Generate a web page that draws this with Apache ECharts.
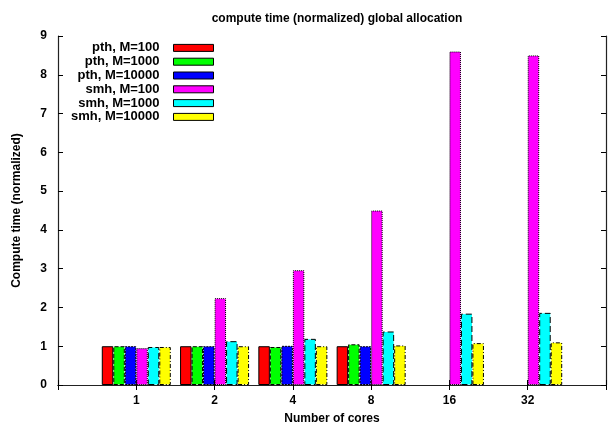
<!DOCTYPE html>
<html>
<head>
<meta charset="utf-8">
<script src="https://cdn.jsdelivr.net/npm/echarts@6/dist/echarts.min.js"></script>
<style>html,body{margin:0;padding:0;background:#fff}#c{width:608px;height:427px}</style>
</head>
<body>
<div id="c"></div>
<script>
const categories = ['1', '2', '4', '8', '16', '32'];
const seriesNames = ['pth, M=100', 'pth, M=1000', 'pth, M=10000', 'smh, M=100', 'smh, M=1000', 'smh, M=10000'];
const pth100 = [1.0, 1.0, 1.0, 1.0, null, null];
const pth1000 = [1.0, 1.0, 0.98, 1.05, null, null];
const pth10000 = [1.0, 1.0, 1.01, 1.0, null, null];
const smh100 = [0.95, 2.24, 2.96, 4.50, 8.60, 8.50];
const smh1000 = [0.98, 1.13, 1.19, 1.38, 1.84, 1.86];
const smh10000 = [0.98, 1.0, 1.0, 1.02, 1.08, 1.10];
const yTicks = [0, 1, 2, 3, 4, 5, 6, 7, 8, 9];

const allValues = [pth100, pth1000, pth10000, smh100, smh1000, smh10000];
const colors = ['#ff0000', '#00ff00', '#0000ff', '#ff00ff', '#00ffff', '#ffff00'];
const borderTypes = ['solid', [4, 2], [2, 1], [1, 1], [6, 3], [4, 2, 1, 2]];

// pad categories so the axis spans one category beyond each side
const xCats = [''].concat(categories, ['']);
const pad = arr => [null].concat(arr, [null]);

const font = 'Liberation Sans, Arial, Helvetica, sans-serif';
const chart = echarts.init(document.getElementById('c'), null, {renderer: 'canvas'});

const series = allValues.map((vals, i) => ({
  name: seriesNames[i],
  type: 'bar',
  data: pad(vals),
  barWidth: 11.5,
  barGap: '0%',
  itemStyle: {
    color: colors[i],
    borderColor: '#000',
    borderWidth: 1,
    borderType: borderTypes[i]
  },
  emphasis: {disabled: true}
}));

const axisLineStyle = {color: '#222', width: 1.2};

chart.setOption({
  animation: false,
  backgroundColor: '#fff',
  textStyle: {fontFamily: font},
  title: {
    text: 'compute time (normalized) global allocation',
    left: 332,
    textAlign: 'center',
    top: 8,
    textStyle: {fontSize: 12, fontWeight: 'bold', color: '#000', fontFamily: font}
  },
  legend: {
    orient: 'vertical',
    align: 'right',
    right: 394,
    top: 41,
    padding: 0,
    icon: 'rect',
    itemWidth: 40,
    itemHeight: 7,
    itemGap: 0,
    selectedMode: false,
    data: seriesNames,
    itemStyle: {borderWidth: 1, borderColor: '#000'},
    textStyle: {fontSize: 13, fontWeight: 'bold', color: '#000', fontFamily: font, lineHeight: 13.8, padding: [0, 9, 0, 0]}
  },
  grid: {left: 58, right: 2, top: 36, bottom: 42, containLabel: false, outerBoundsMode: 'none'},
  xAxis: [{
    type: 'category',
    data: xCats,
    boundaryGap: false,
    name: 'Number of cores',
    nameLocation: 'middle',
    nameGap: 28,
    nameMoveOverlap: false,
    nameTextStyle: {fontSize: 12, fontWeight: 'bold', color: '#000'},
    axisLine: {lineStyle: axisLineStyle},
    axisTick: {inside: true, length: 5, lineStyle: {color: '#000'}},
    axisLabel: {fontSize: 12, fontWeight: 'bold', color: '#000', margin: 10, interval: 0},
    splitLine: {show: false}
  }, {
    type: 'category',
    data: xCats,
    boundaryGap: false,
    position: 'top',
    axisLine: {lineStyle: axisLineStyle},
    axisTick: {inside: true, length: 5, lineStyle: {color: '#000'}},
    axisLabel: {show: false},
    splitLine: {show: false}
  }],
  yAxis: [{
    type: 'value',
    min: yTicks[0],
    max: yTicks[yTicks.length - 1],
    interval: 1,
    name: 'Compute time (normalized)',
    nameLocation: 'middle',
    nameGap: 35,
    nameMoveOverlap: false,
    nameTextStyle: {fontSize: 12, fontWeight: 'bold', color: '#000'},
    axisLine: {show: true, lineStyle: axisLineStyle},
    axisTick: {show: true, inside: true, length: 5, lineStyle: {color: '#000'}},
    axisLabel: {fontSize: 12, fontWeight: 'bold', color: '#000', margin: 11},
    splitLine: {show: false}
  }, {
    type: 'value',
    min: yTicks[0],
    max: yTicks[yTicks.length - 1],
    interval: 1,
    position: 'right',
    axisLine: {show: true, lineStyle: axisLineStyle},
    axisTick: {show: true, inside: true, length: 5, lineStyle: {color: '#000'}},
    axisLabel: {show: false},
    splitLine: {show: false}
  }],
  series: series
});
</script>
</body>
</html>
